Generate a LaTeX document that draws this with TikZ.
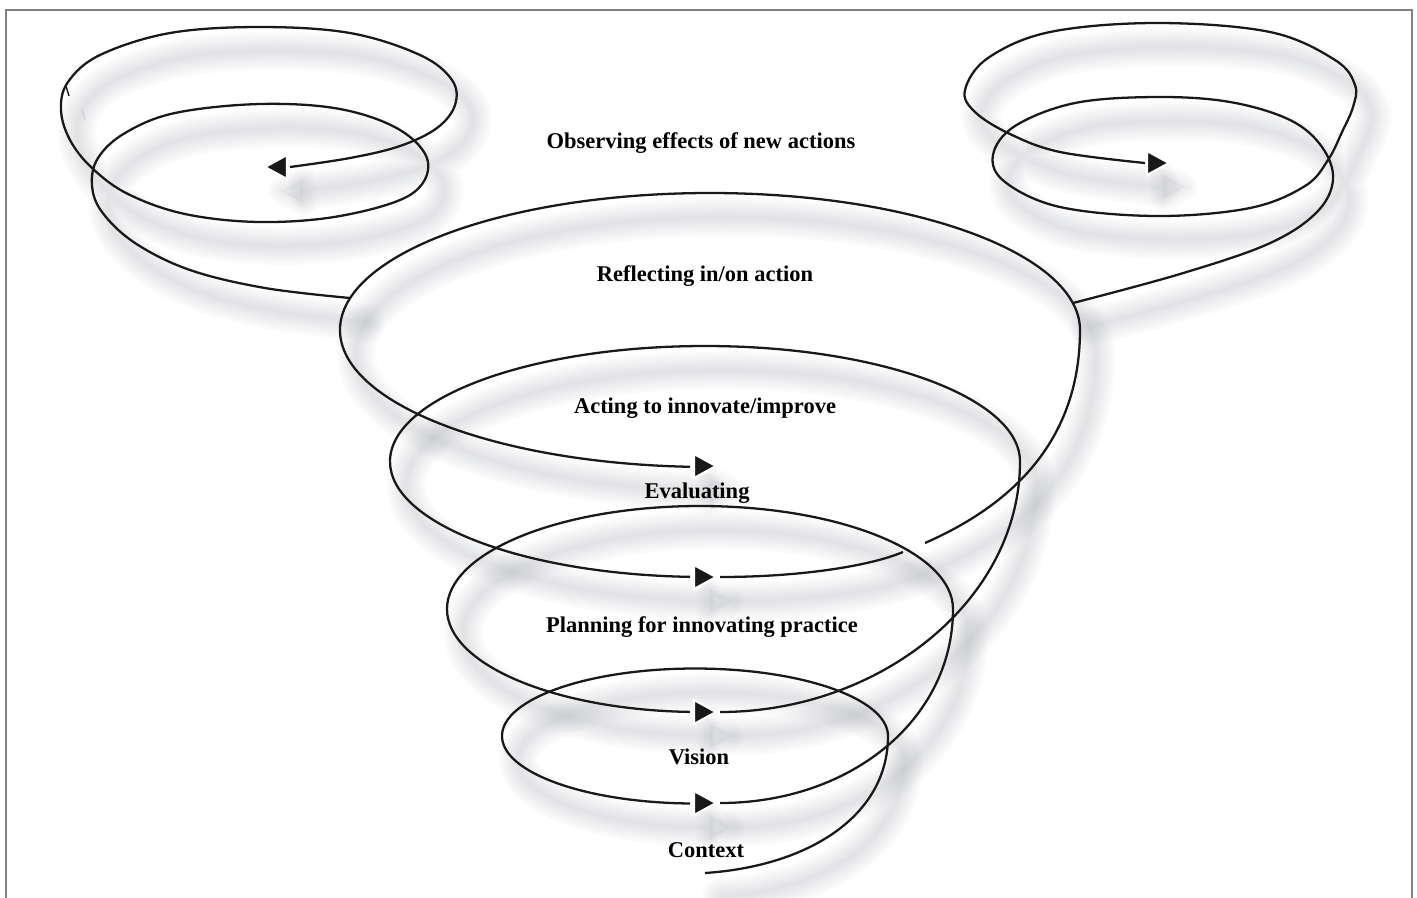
\documentclass[tikz,border=0pt]{standalone}
\usepackage{fontspec}
\setmainfont{Liberation Serif}

\definecolor{shade}{RGB}{140,143,152}

% all curves and heads of the spiral, drawn once per shadow layer and once for the lines
\newcommand{\spiral}{%
	\draw[curve] (705,873) .. controls (810,866) and (888,815) .. (888,736)
		arc[start angle=0, end angle=-268.5, x radius=193, y radius=67.5];
	\draw[curve] (720,803) .. controls (850,803) and (953,720) .. (953,609)
		arc[start angle=0, end angle=-267.7, x radius=253, y radius=103];
	\draw[curve] (720,712) .. controls (880,712) and (1020,600) .. (1020,461.5)
		arc[start angle=0, end angle=-267.3, x radius=315, y radius=115.5];
	\draw[curve] (720,577) .. controls (800,577) and (870,566) .. (903,552);
	\draw[curve] (925,543) .. controls (1000,510) and (1080,450) .. (1080,330)
		arc[start angle=0, end angle=-266.9, x radius=370, y radius=137];
	\draw[curve] plot[smooth, tension=0.6] coordinates {
		(350,298) (265,288) (190,270) (135,243) (102,212) (92,185) (98,158)
		(125,133) (175,113) (260,104) (340,109) (400,130) (428,162) (410,195)
		(340,216) (260,222) (185,214) (128,194) (92,168) (70,140) (61,110)
		(68,82) (100,55) (170,33) (260,27) (350,33) (420,55) (452,80)
		(455,105) (437,128) (400,146) (350,158) (290,167)};
	\draw[curve] plot[smooth, tension=0.6] coordinates {
		(1073,303) (1180,274) (1268,244) (1316,213) (1333,180) (1322,147)
		(1290,120) (1230,102) (1157,97) (1075,103) (1015,126) (993,155)
		(1005,182) (1060,207) (1157,216) (1250,208) (1305,186) (1328,160)
		(1342,132) (1353,107) (1355,85) (1335,60) (1270,32) (1157,23)
		(1050,32) (988,58) (965,90) (975,112) (1010,134) (1060,152)
		(1145,163)};
	\draw[curve, line width=0.8pt] (66,86) -- (69,96);
	\coordinate (headR) at (716,466);
	\coordinate (headA) at (716,577);
	\coordinate (headP) at (716,712);
	\coordinate (headV) at (716,803);
	\coordinate (headTL) at (265,167);
	\coordinate (headTR) at (1169,163);
	\foreach \h in {headR,headA,headP,headV,headTR}
		\filldraw[tip] (\h) ++(-22,-12) -- ++(22,12) -- ++(-22,12) -- cycle;
	\filldraw[tip] (headTL) ++(22,-12) -- ++(-22,12) -- ++(22,12) -- cycle;
}

\begin{document}
\begin{tikzpicture}[x=0.02cm, y=-0.02cm,
		label/.style={font=\fontsize{12.8}{15}\selectfont\bfseries, anchor=base, inner sep=0pt},
		frame/.style={draw=black!50, line width=1.1pt}]
	\useasboundingbox (0,0) rectangle (1417,897);
	\draw[frame] (6,905) -- (6,10) -- (1412,10) -- (1412,905);

	% soft shadow, one faint layer per width
	\foreach \w in {2,4.5,...,22}{
		\begin{scope}[shift={(16,24)},
				curve/.style={draw=shade, draw opacity=.03, line width=\w pt, line cap=round},
				tip/.style={fill=shade, fill opacity=.01, draw=shade, draw opacity=.02,
					line width={\w*0.7pt}, line join=round}]
			\spiral
		\end{scope}
	}

	% lines
	\begin{scope}[
			curve/.style={draw=black!90, line width=1.3pt},
			tip/.style={fill=black!90, draw=white, line width=1.2pt}]
		\spiral
	\end{scope}

	\node(observe)[label] at (701,148) {Observing effects of new actions};
	\node(reflect)[label] at (705,281) {Reflecting in/on action};
	\node(act)[label] at (705,413) {Acting to innovate/improve};
	\node(evaluate)[label] at (697,498) {Evaluating};
	\node(plan)[label] at (702,632) {Planning for innovating practice};
	\node(vision)[label] at (699,764) {Vision};
	\node(context)[label] at (706,857) {Context};
\end{tikzpicture}
\end{document}
